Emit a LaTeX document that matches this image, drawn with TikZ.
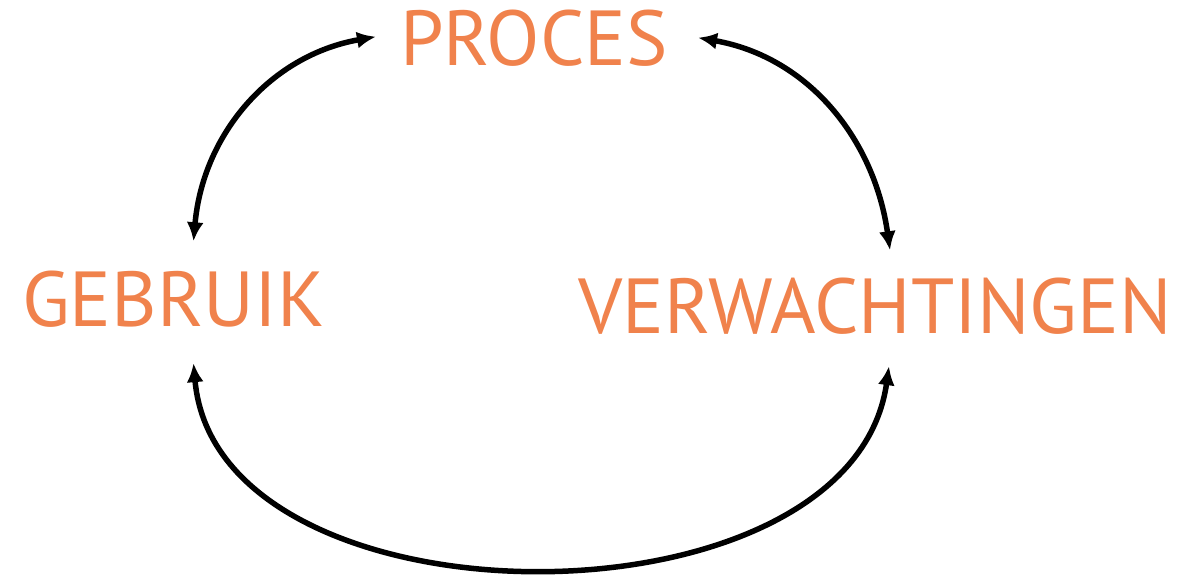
\documentclass[tikz,border=0pt]{standalone}
\usepackage{fontspec}
\usetikzlibrary{positioning}
\usetikzlibrary{arrows.meta}
\newfontfamily\conceptfamily{PT Sans}
\definecolor{ua-orange}{HTML}{F0824C}
\tikzset{
  concept/.style={font={\conceptfamily\fontsize{78pt}{82pt}\selectfont}, text=ua-orange, inner sep=0pt, anchor=base},
  relation-path/.style={line width=5.5pt, {Latex[length=19pt,width=17pt]}-{Latex[length=19pt,width=17pt]}},
}
\begin{document}
\begin{tikzpicture}[x=1pt, y=1pt]
\useasboundingbox (0,0) rectangle (1178,574);
% concepts
\node[concept] (proces) at (534,508) {PROCES};
\node[concept] (gebruik) at (173.5,248) {GEBRUIK};
\node[concept] (verwachtingen) at (875,241) {VERWACHTINGEN};
% relations
\draw[relation-path] ([xshift=20pt,yshift=29pt]gebruik.north) to[out=85, in=190] ([xshift=-24pt,yshift=2pt]proces.west);
\draw[relation-path] ([xshift=30pt,yshift=1pt]proces.east) to[out=-10, in=98] ([xshift=15pt,yshift=27pt]verwachtingen.north);
\draw[relation-path] ([xshift=20pt,yshift=-36pt]gebruik.south) to[out=-85, in=-98] ([xshift=14pt,yshift=-32pt]verwachtingen.south);
\end{tikzpicture}
\end{document}
